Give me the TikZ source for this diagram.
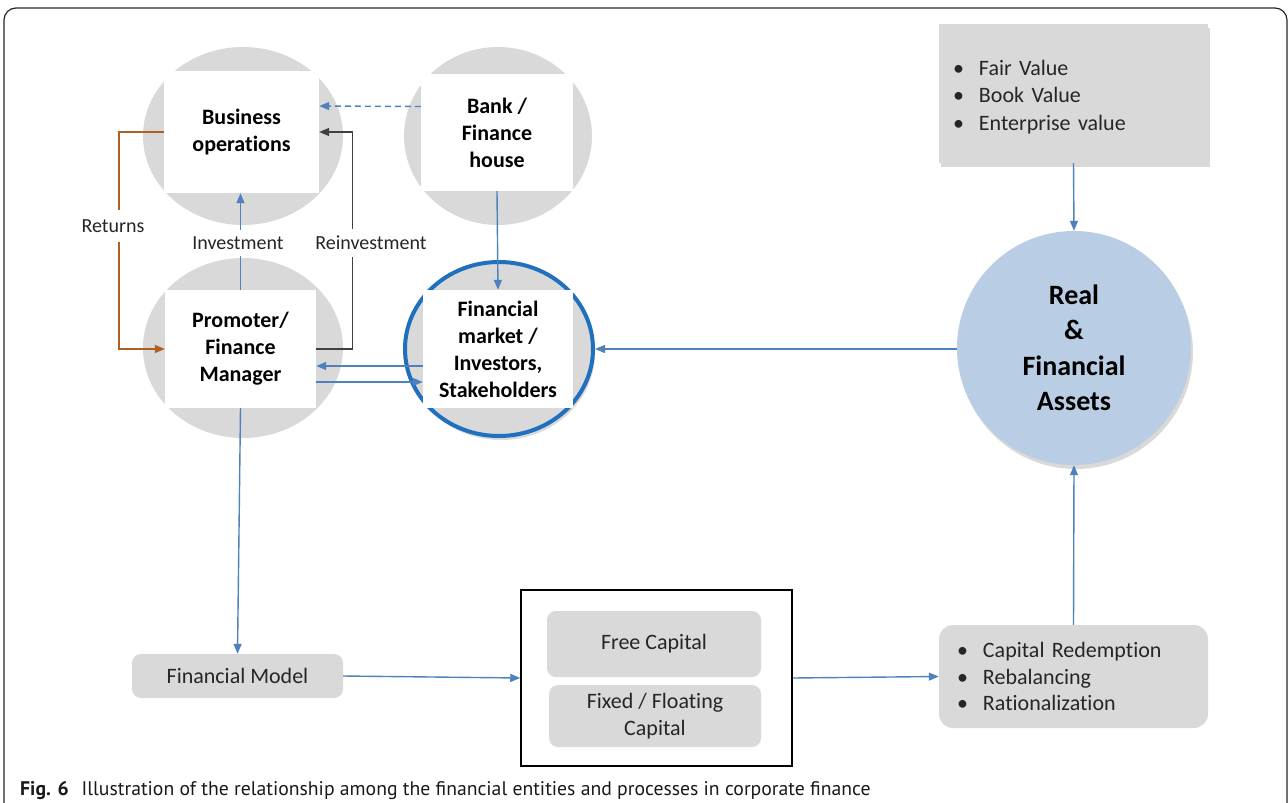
\documentclass[tikz,border=0pt]{standalone}
\usepackage{fontspec}
\setmainfont{Carlito}[Ligatures=NoCommon]
\newfontfamily\capfont{PT Sans}
\usetikzlibrary{arrows.meta,shapes.geometric,shadows}
\definecolor{discgray}{HTML}{D9D9D9}
\definecolor{flowblue}{HTML}{4F81BD}
\definecolor{ringblue}{HTML}{1F70BE}
\definecolor{assetblue}{HTML}{B9CDE5}
\definecolor{returnbrown}{HTML}{B05F22}
\definecolor{reinvgray}{HTML}{404040}
\definecolor{inkgray}{HTML}{262626}
\newcommand\blt{\makebox[26pt][l]{\textbullet}}

\begin{document}
\begin{tikzpicture}[x=1pt,y=-1pt,
    disc/.style={ellipse,fill=discgray,inner sep=0pt},
    whitebox/.style={rectangle,fill=white,inner sep=0pt,align=center,text=black,
      font=\fontsize{22}{27}\selectfont\bfseries},
    graybox/.style={rectangle,rounded corners=9pt,fill=discgray,inner sep=0pt,align=center,
      text=inkgray,font=\fontsize{22}{26.5}\selectfont},
    tip/.style={-{Triangle[length=10pt,width=8pt]}},
    flow/.style={draw=flowblue,line width=1.4pt,tip},
    tag/.style={fill=white,text=inkgray,inner xsep=3pt,inner ysep=7pt,font=\fontsize{20}{24}\selectfont},
    softshadow/.style={drop shadow={shadow xshift=2pt,shadow yshift=-4pt,opacity=.3}}]

  \useasboundingbox (0,0) rectangle (1288,803);
  \draw[black!85,line width=1.2pt,rounded corners=12pt] (4,803) -- (4,8) -- (1287,8) -- (1287,803);

  \begin{scope}[every node/.style={disc}]
    \node[minimum width=200pt,minimum height=178pt] (bizc)   at (243,136) {};
    \node[minimum width=188pt,minimum height=178pt] (bankc)  at (498,136) {};
    \node[minimum width=200pt,minimum height=180pt] (promoc) at (243,348) {};
  \end{scope}
  \node[disc,draw=ringblue,line width=4pt,minimum width=188pt,minimum height=174pt,softshadow]
    (finc) at (499,349) {};
  \node[ellipse,fill=assetblue,minimum width=234pt,minimum height=234pt,inner sep=0pt,
    align=center,softshadow,font=\fontsize{28}{35.5}\selectfont\bfseries]
    (realc) at (1074,348) {Real\\\&\\Financial\\Assets};

  \begin{scope}[every node/.style={whitebox}]
    \node[minimum width=155pt,minimum height=122pt] (bizbox)   at (241.5,132) {Business\\operations};
    \node[minimum width=152pt,minimum height=117pt] (bankbox)  at (497,132.5) {Bank /\\Finance\\house};
    \node[minimum width=151pt,minimum height=118pt] (promobox) at (240.5,349) {Promoter/\\Finance\\Manager};
    \node[minimum width=150pt,minimum height=118pt] (finbox)   at (498,349) {Financial\\market /\\Investors,\\Stakeholders};
  \end{scope}

  \node[rectangle,fill=discgray,minimum width=269pt,minimum height=139pt,inner xsep=14pt,
    text width=241pt,align=left,text=inkgray,font=\fontsize{22}{27.5}\selectfont,softshadow]
    (valbox) at (1073.5,93.5) {\rule{0pt}{22pt}\blt Fair Value\\\blt Book Value\\\blt Enterprise value};

  \begin{scope}[every node/.style={graybox}]
    \node[minimum width=211pt,minimum height=44pt] (modelbox) at (237.5,676) {Financial Model};
    \node[minimum width=214pt,minimum height=66pt] (freebox)  at (654,644) {Free Capital};
    \node[minimum width=212pt,minimum height=62pt] (fixedbox) at (655,716) {Fixed / Floating\\Capital};
    \node[minimum width=269pt,minimum height=103pt,inner xsep=18pt,text width=233pt,align=left,
      rounded corners=14pt] (capbox) at (1073.5,676.5)
      {\blt Capital Redemption\\\blt Rebalancing\\\blt Rationalization};
  \end{scope}
  \node[rectangle,draw=black,line width=1.5pt,minimum width=271pt,minimum height=176pt]
    (capframe) at (656.5,678) {};

  \begin{scope}[every edge/.style={flow}]
    \path (promobox.north) edge (promobox.north |- bizbox.south);
    \path ([yshift=26pt]bankbox.west) edge[dash pattern=on 6pt off 4pt] ([yshift=26pt]bizbox.east);
    \path (bankbox.south) edge (finbox.north);
    \path ([yshift=-17pt]finbox.west) edge ([yshift=-17pt]promobox.east);
    \path ([yshift=-33pt]promobox.east) edge ([yshift=-33pt]finbox.west);
    \path (finc.east -| realc.west) edge (finc.east);
    \path (valbox.south) edge (realc.north);
    \path (capbox.north) edge (realc.south);
    \path (promobox.south) edge (modelbox.north);
    \path (modelbox.east) edge (capframe.west);
    \path (capframe.east) edge (capbox.west);
  \end{scope}
  \draw[reinvgray,line width=1.4pt,tip] (promobox.east) -- ++(36,0) |- (bizbox.east);
  \draw[returnbrown,line width=1.4pt,tip] (bizbox.west) -- ++(-45,0) |- (promobox.west);

  \node[tag,inner ysep=10pt] (returns) at (113,226) {Returns};
  \node[tag] (invest)   at (238,243) {Investment};
  \node[tag] (reinvest) at (371,243) {Reinvestment};

  \node[anchor=base west,inner sep=0pt,text=black!90] (caption) at (20,795)
    {\capfont\fontsize{19.7}{22}\selectfont\textbf{Fig. 6}\hspace{13pt}Illustration of the relationship among the financial entities and processes in corporate finance};
\end{tikzpicture}
\end{document}
